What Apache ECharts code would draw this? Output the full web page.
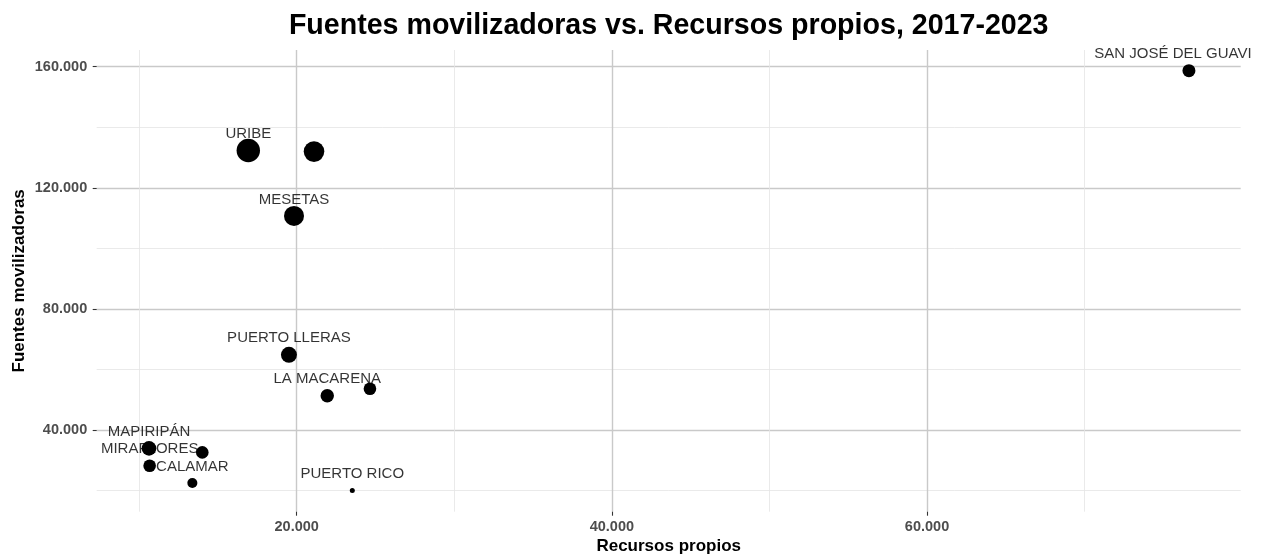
<!DOCTYPE html>
<html>
<head>
<meta charset="utf-8">
<script src="https://cdn.jsdelivr.net/npm/echarts@6/dist/echarts.min.js"></script>
<style>
  html, body { margin: 0; padding: 0; background: #fff; }
  #chart { width: 1261px; height: 555px; }
</style>
</head>
<body>
<div id="chart"></div>
<script>
// municipios (vacío = punto sin etiqueta)
const municipios = ['URIBE', '', 'MESETAS', 'PUERTO LLERAS', 'LA MACARENA', '',
  'PUERTO RICO', 'SAN JOSÉ DEL GUAVI', 'MAPIRIPÁN', '', 'MIRAFLORES', 'CALAMAR']
const recursos = [16930, 21100, 19830, 19510, 21940, 24650, 23530, 76620, 10630, 14010, 10670, 13380]
const fuentes = [132300, 131950, 110730, 64860, 51330, 53640, 20080, 158680, 33940, 32620, 28230, 22520]
// tamaño relativo del punto
const tamano = [548, 424, 400, 256, 180, 159, 25, 169, 213, 159, 159, 100]

const xMajor = [20000, 40000, 60000]
const xMinor = [10000, 30000, 50000, 70000]
const yMajor = [40000, 80000, 120000, 160000]
const yMinor = [20000, 60000, 100000, 140000]

const X_MIN = 7310, X_MAX = 79905
const Y_MIN = 13040, Y_MAX = 165510

const FONT = '"Liberation Sans", Arial, sans-serif'
const MAJOR_COLOR = '#c9c9c9'
const MINOR_COLOR = '#e4e4e4'

function fmtMiles(v) {
  return String(Math.round(v)).replace(/\B(?=(\d{3})+(?!\d))/g, '.')
}

const puntos = recursos.map((x, i) => ({ name: municipios[i], value: [x, fuentes[i]] }))

const etiquetas = puntos.filter(p => p.name).map(p => {
  const item = { name: p.name, value: p.value }
  if (p.name.startsWith('SAN JOSÉ')) item.label = { offset: [-16, -16.5] }
  return item
})

function tickLabel(values, margin) {
  return {
    customValues: values,
    formatter: fmtMiles,
    margin: margin,
    color: '#4d4d4d',
    fontWeight: 'bold',
    fontSize: 14.5,
    fontFamily: FONT
  }
}

function majorAxis(values, extra) {
  return Object.assign({
    type: 'value',
    axisLine: { show: false },
    axisTick: { show: true, length: 4, customValues: values, lineStyle: { color: '#333', width: 1.1 } },
    splitLine: { show: true, lineStyle: { color: MAJOR_COLOR, width: 1.4 } },
    nameMoveOverlap: false,
    nameTextStyle: { color: '#000', fontWeight: 'bold', fontSize: 17, fontFamily: FONT }
  }, extra)
}

function minorAxis(values, extra) {
  return Object.assign({
    type: 'value',
    axisLine: { show: false },
    axisTick: { show: false, customValues: values },
    axisLabel: { show: false, customValues: values },
    splitLine: { show: true, lineStyle: { color: MINOR_COLOR, width: 0.8 } }
  }, extra)
}

const chart = echarts.init(document.getElementById('chart'), null, { renderer: 'canvas' })

chart.setOption({
  animation: false,
  backgroundColor: '#fff',
  title: {
    text: 'Fuentes movilizadoras vs. Recursos propios, 2017-2023',
    left: 663.7,
    top: 7,
    textAlign: 'center',
    textStyle: { color: '#000', fontWeight: 'bold', fontSize: 28.6, fontFamily: FONT }
  },
  grid: {
    left: 96.7, right: 20.3, top: 50, bottom: 43.3,
    containLabel: false,
    outerBoundsMode: 'none'
  },
  xAxis: [
    minorAxis(xMinor, { min: X_MIN, max: X_MAX }),
    majorAxis(xMajor, {
      min: X_MIN, max: X_MAX, position: 'bottom',
      name: 'Recursos propios', nameLocation: 'middle', nameGap: 26,
      axisLabel: tickLabel(xMajor, 7.5)
    })
  ],
  yAxis: [
    minorAxis(yMinor, { min: Y_MIN, max: Y_MAX }),
    majorAxis(yMajor, {
      min: Y_MIN, max: Y_MAX, position: 'left',
      name: 'Fuentes movilizadoras', nameLocation: 'middle', nameGap: 69,
      axisLabel: tickLabel(yMajor, 9.5)
    })
  ],
  series: [
    {
      type: 'scatter',
      xAxisIndex: 1,
      yAxisIndex: 1,
      z: 2,
      silent: true,
      symbolSize: 1,
      itemStyle: { color: 'rgba(0,0,0,0)' },
      label: {
        show: true,
        position: 'inside',
        offset: [0, -16.5],
        formatter: '{b}',
        color: '#000',
        fontSize: 15,
        fontFamily: FONT
      },
      data: etiquetas
    },
    {
      type: 'scatter',
      xAxisIndex: 1,
      yAxisIndex: 1,
      z: 3,
      symbolSize: (val, params) => Math.sqrt(tamano[params.dataIndex]),
      itemStyle: { color: '#000', opacity: 1 },
      data: puntos
    }
  ]
})
</script>
</body>
</html>
